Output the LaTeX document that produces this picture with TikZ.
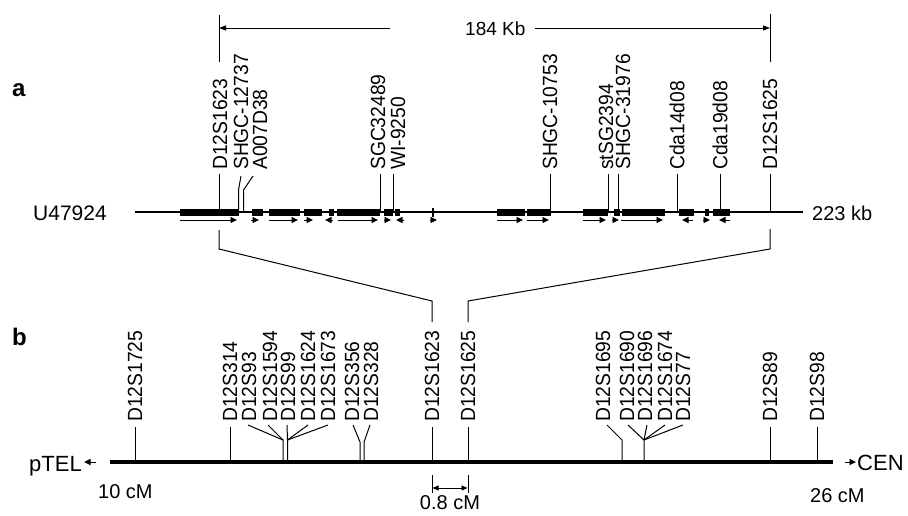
\documentclass[tikz,border=0pt]{standalone}
\usepackage{fontspec}
\setmainfont{Liberation Sans}
\usetikzlibrary{arrows.meta}
\newcommand\narrowtext[1]{\scalebox{0.94}[1]{#1}}
\begin{document}
\begin{tikzpicture}[x=1pt,y=-1pt,
  lab/.style={rotate=90,anchor=west,inner sep=0pt,font=\fontsize{20.5}{21}\selectfont},
  txt/.style={inner sep=0pt,font=\fontsize{20}{20}\selectfont},
  thinl/.style={line width=1pt},
  gar/.style={line width=0.9pt,-{Triangle[length=6.5pt,width=6pt]}},
  dim/.style={line width=0.9pt}]
\clip (0,0) rectangle (908,515);
\fill[white] (0,0) rectangle (908,515);
% ---------- panel a ----------
\node[anchor=base west,inner sep=0pt,font=\fontsize{24}{24}\selectfont\bfseries] (la) at (12,96) {a};
\node[anchor=base west,inner sep=0pt,font=\fontsize{21}{21}\selectfont] (u) at (33,220) {U47924};
\node[anchor=base west,txt] (kb) at (812,220) {223 kb};
\coordinate (trL) at (135,212);
\coordinate (trR) at (803,212);
\draw[line width=2pt] (trL) -- (trR);
\foreach \a/\b in {180/239,252/263,269/300,304/322,329/334,337/380,384/393,395/400,
  497/525,527/551,583/608,614/620,622/665,679/694,705/709,713/730}
  \fill (\a,208.5) rectangle (\b,215.5);
\fill (431.5,207.5) rectangle (434,216.5);
\foreach \a/\b in {180/237,251/259,269/298,304/313,333/325,338/378,384/391,404/396,430/437,
  497/523,527/549,583/606,612/619,621/663,693/682,703/710,730/719}
  \draw[gar] (\a,220) -- (\b,220);
% 184 Kb
\node[anchor=base west,inner sep=0pt,font=\fontsize{19}{19}\selectfont] (dk) at (465,35) {184 Kb};
\coordinate (dL) at (219,28);
\coordinate (dR) at (770,28);
\draw[dim] (219,15) -- (219,62);
\draw[dim] (770,14) -- (770,62);
\draw[dim,{Triangle[length=7pt,width=5pt]}-] (dL) -- (390,28);
\draw[dim,-{Triangle[length=7pt,width=5pt]}] (535,28) -- (dR);
% top markers
\node[lab] (a1) at (220,170) {\narrowtext{D12S1623}};
\node[lab] (a2) at (241,170) {\narrowtext{SHGC-12737}};
\node[lab] (a3) at (260,170) {\narrowtext{A007D38}};
\node[lab] (a4) at (378,170) {\narrowtext{SGC32489}};
\node[lab] (a5) at (398,170) {\narrowtext{WI-9250}};
\node[lab] (a6) at (550,170) {\narrowtext{SHGC-10753}};
\node[lab] (a7) at (606,170) {\narrowtext{stSG2394}};
\node[lab] (a8) at (623,170) {\narrowtext{SHGC-31976}};
\node[lab] (a9) at (677,170) {\narrowtext{Cda14d08}};
\node[lab] (a10) at (720,170) {\narrowtext{Cda19d08}};
\node[lab] (a11) at (770,170) {\narrowtext{D12S1625}};
\foreach \x in {219,380,393,550,608,618,677,720,770}
  \draw[thinl] (\x,174) -- (\x,212);
\draw[thinl] (241,176) -- (238.5,190) -- (238.5,211);
\draw[thinl] (253,176) -- (243.5,190) -- (243.5,211);
% connectors to panel b
\draw[thinl] (219,230) -- (219,249) -- (432,301) -- (432,322);
\draw[thinl] (770,229) -- (770,249) -- (468,301) -- (468,322);
% ---------- panel b ----------
\node[anchor=base west,inner sep=0pt,font=\fontsize{24}{24}\selectfont\bfseries] (lb) at (12,345) {b};
\coordinate (cL) at (110,462);
\coordinate (cR) at (833,462);
\draw[line width=4pt] (cL) -- (cR);
\node[anchor=base east,inner sep=0pt,font=\fontsize{22}{22}\selectfont] (tel) at (82,471) {pTEL};
\node[anchor=base west,inner sep=0pt,font=\fontsize{22}{22}\selectfont] (cen) at (857,470) {CEN};
\draw[gar] (96,462) -- (84,462);
\draw[gar] (845,462) -- (856,462);
\node[anchor=base west,txt] (c10) at (98,498) {10 cM};
\node[anchor=base west,txt] (c26) at (810,502) {26 cM};
\node[anchor=base,txt] (c08) at (450,509.5) {0.8 cM};
\draw[dim] (432,475) -- (432,493);
\draw[dim] (468,475) -- (468,493);
\draw[dim,{Triangle[length=6pt,width=5pt]}-{Triangle[length=6pt,width=5pt]}] (432.5,488) -- (467.5,488);
% bottom labels
\node[lab] (b1) at (135,422) {\narrowtext{D12S1725}};
\node[lab] (b2) at (230,422) {\narrowtext{D12S314}};
\node[lab] (b3) at (249,422) {\narrowtext{D12S93}};
\node[lab] (b4) at (270,422) {\narrowtext{D12S1594}};
\node[lab] (b5) at (288,422) {\narrowtext{D12S99}};
\node[lab] (b6) at (308,422) {\narrowtext{D12S1624}};
\node[lab] (b7) at (328,422) {\narrowtext{D12S1673}};
\node[lab] (b8) at (352,422) {\narrowtext{D12S356}};
\node[lab] (b9) at (371,422) {\narrowtext{D12S328}};
\node[lab] (b10) at (432,422) {\narrowtext{D12S1623}};
\node[lab] (b11) at (468,422) {\narrowtext{D12S1625}};
\node[lab] (b12) at (603,422) {\narrowtext{D12S1695}};
\node[lab] (b13) at (627,422) {\narrowtext{D12S1690}};
\node[lab] (b14) at (645,422) {\narrowtext{D12S1696}};
\node[lab] (b15) at (665,422) {\narrowtext{D12S1674}};
\node[lab] (b16) at (683,422) {\narrowtext{D12S77}};
\node[lab] (b17) at (770,422) {\narrowtext{D12S89}};
\node[lab] (b18) at (817,422) {\narrowtext{D12S98}};
\foreach \x in {135,230,432,468,770,817}
  \draw[thinl] (\x,427) -- (\x,462);
\draw[thinl] (248,425) -- (283,440) -- (283,462);
\draw[thinl] (268,425) -- (283,440);
\draw[thinl] (287,425) -- (287.5,440) -- (287.5,462);
\draw[thinl] (308,425) -- (287.5,440);
\draw[thinl] (328,425) -- (287.5,440);
\draw[thinl] (353,425) -- (360,442) -- (360,462);
\draw[thinl] (370,425) -- (364,442) -- (364,462);
\draw[thinl] (607,425) -- (622,440) -- (622,462);
\draw[thinl] (628,425) -- (644,440) -- (644,462);
\draw[thinl] (647,425) -- (644,440);
\draw[thinl] (665,425) -- (644,440);
\draw[thinl] (683,425) -- (644,440);
\end{tikzpicture}
\end{document}
